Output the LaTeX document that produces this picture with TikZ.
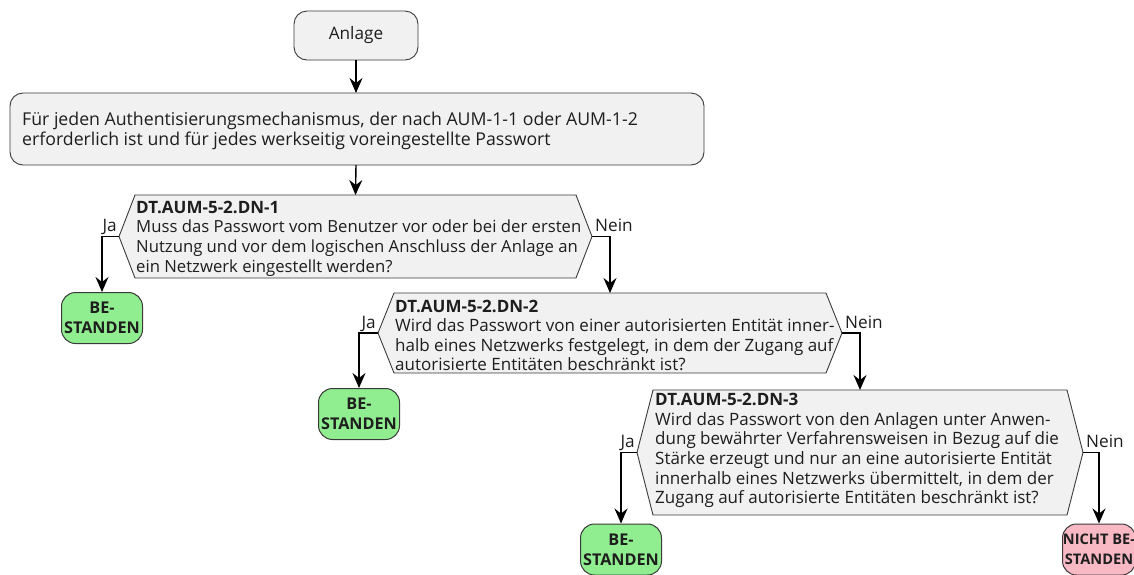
\documentclass[tikz,border=0pt]{standalone}
\usepackage{fontspec}
\setmainfont{Open Sans}
\usetikzlibrary{arrows.meta,calc}
\definecolor{boxfill}{HTML}{F1F1F1}
\definecolor{boxline}{HTML}{3A3A3A}
\definecolor{passfill}{HTML}{90EE90}
\definecolor{failfill}{HTML}{F9B9C4}
\definecolor{ink}{HTML}{1E1E1E}

% hexagonal decision: name, left x, right x, top y, bottom y
\newcommand\decisionhex[5]{%
  \path (#2,{(#4+#5)/2}) coordinate (#1-w)
        (#3,{(#4+#5)/2}) coordinate (#1-e)
        ({(#2+#3)/2},#4) coordinate (#1-n);
  \draw[hexshape] (#1-w) -- (#2+16,#4) -- (#3-16,#4) -- (#1-e)
        -- (#3-16,#5) -- (#2+16,#5) -- cycle;
}
\newcommand\hexhead[1]{{\fontsize{17}{19.6}\selectfont\bfseries #1}}

\begin{document}
\begin{tikzpicture}[x=1pt,y=-1pt,
  every node/.style={text=ink, font=\fontsize{17.2}{19.6}\selectfont},
  roundbox/.style={draw=boxline, line width=0.9pt, fill=boxfill, rounded corners=13pt},
  hexshape/.style={draw=boxline, line width=0.9pt, fill=boxfill},
  hextext/.style={anchor=west, align=left, inner sep=0pt,
    font=\fontsize{17}{19.6}\selectfont},
  passbox/.style={draw=boxline, line width=1pt, fill=passfill, rounded corners=14pt,
    minimum width=81pt, minimum height=51pt, inner sep=0pt, align=center,
    font=\fontsize{16.2}{19.8}\selectfont\bfseries},
  failbox/.style={passbox, fill=failfill, minimum width=73pt,
    font=\fontsize{14.6}{19.8}\selectfont\bfseries},
  arr/.style={draw=black, line width=1.4pt,
    -{Stealth[length=15pt,width=13pt,inset=5pt]}},
  yes/.style={anchor=base east, inner sep=0pt},
  no/.style={anchor=base west, inner sep=0pt},
]
\useasboundingbox (0,0) rectangle (1134,574);

% start and loop boxes
\draw[roundbox] (294,11) rectangle (418,60);
\node (start) at (356,35.5) {Anlage};
\coordinate (start-s) at (356,60);

\draw[roundbox] (10,93) rectangle (704,165);
\coordinate (loop-n) at (356,93);
\coordinate (loop-s) at (356,165);
\node[anchor=west, align=left, inner sep=0pt, font=\fontsize{17.7}{20}\selectfont]
  (loop) at (22,131)
  {Für jeden Authentisierungsmechanismus, der nach AUM-1-1 oder AUM-1-2\\
   erforderlich ist und für jedes werkseitig voreingestellte Passwort};

% decisions
\decisionhex{d1}{119}{592}{195}{278}
\node[hextext, font=\fontsize{16.7}{19.6}\selectfont] (t1) at (136,238.5)
  {\hexhead{DT.AUM-5-2.DN-1}\\
   Muss das Passwort vom Benutzer vor oder bei der ersten\\
   Nutzung und vor dem logischen Anschluss der Anlage an\\
   ein Netzwerk eingestellt werden?};

\decisionhex{d2}{378}{842}{293}{373}
\node[hextext] (t2) at (395,335.5)
  {\hexhead{DT.AUM-5-2.DN-2}\\
   Wird das Passwort von einer autorisierten Entität inner-\\
   halb eines Netzwerks festgelegt, in dem der Zugang auf\\
   autorisierte Entitäten beschränkt ist?};

\decisionhex{d3}{637}{1083}{390}{515}
\node[hextext] (t3) at (655,450.5)
  {\hexhead{DT.AUM-5-2.DN-3}\\
   Wird das Passwort von den Anlagen unter Anwen-\\
   dung bewährter Verfahrensweisen in Bezug auf die\\
   Stärke erzeugt und nur an eine autorisierte Entität\\
   innerhalb eines Netzwerks übermittelt, in dem der\\
   Zugang auf autorisierte Entitäten beschränkt ist?};

% outcomes
\node[passbox] (p1) at (102,318) {BE-\\STANDEN};
\node[passbox] (p2) at (359,414) {BE-\\STANDEN};
\node[passbox] (p3) at (621,549.5) {BE-\\STANDEN};
\node[failbox] (f3) at (1099,549.5) {NICHT BE-\\STANDEN};

% connectors
\draw[arr] (start-s) -- (loop-n);
\draw[arr] (loop-s) -- (d1-n);

\draw[arr] (d1-w) -| (p1.north);
\node[yes] (y1) at ($(d1-w)+(-2,-5)$) {Ja};
\draw[arr] (d1-e) -| (d2-n);
\node[no] (n1) at ($(d1-e)+(3,-5)$) {Nein};

\draw[arr] (d2-w) -| (p2.north);
\node[yes] (y2) at ($(d2-w)+(-2,-5)$) {Ja};
\draw[arr] (d2-e) -| (d3-n);
\node[no] (n2) at ($(d2-e)+(3,-5)$) {Nein};

\draw[arr] (d3-w) -| (p3.north);
\node[yes] (y3) at ($(d3-w)+(-2,-5)$) {Ja};
\draw[arr] (d3-e) -| (f3.north);
\node[no] (n3) at ($(d3-e)+(3,-5)$) {Nein};
\end{tikzpicture}
\end{document}
